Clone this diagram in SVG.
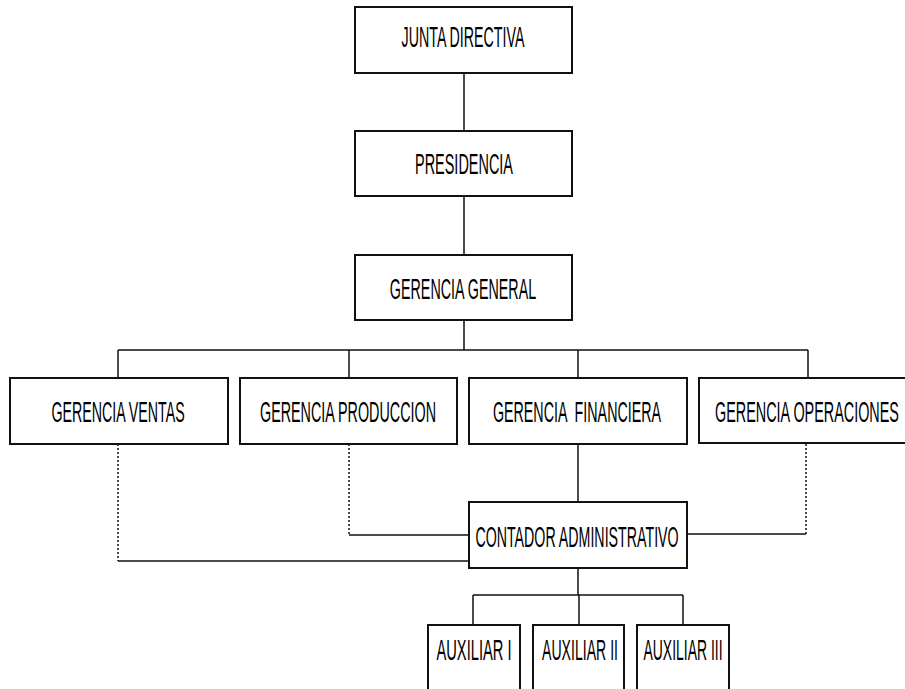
<svg xmlns="http://www.w3.org/2000/svg" width="905" height="689" viewBox="0 0 905 689">
<style>
.box{fill:#fff;stroke:#111;stroke-width:2}
.t{font-family:"Liberation Sans",Arial,sans-serif;font-size:30px;fill:#000;text-anchor:middle}
.ln{fill:none;stroke:#111;stroke-width:1.5}
.dt{fill:none;stroke:#111;stroke-width:1.5;stroke-dasharray:2,2}
</style>
<rect width="905" height="689" fill="#fff"/>
<g id="connectors">
<path class="ln" d="M464 73V131M464 196V255M464 320V350M118 350H808M118 350V378M349 350V378M578 350V378M808 350V378"/>
<path class="ln" d="M578 444V502"/>
<path class="dt" d="M118 444V561M349 444V535M806 444V534"/>
<path class="ln" d="M118 561H469M349 535H469M806 534H687"/>
<path class="ln" d="M578 568V595M473 595H683M473 595V625M579 595V625M683 595V625"/>
</g>
<g id="junta"><rect class="box" x="355" y="7" width="217" height="66"/><text class="t" transform="translate(463 47) scale(0.475 1)">JUNTA DIRECTIVA</text></g>
<g id="presidencia"><rect class="box" x="355" y="131" width="217" height="65"/><text class="t" transform="translate(464 174) scale(0.482 1)">PRESIDENCIA</text></g>
<g id="gerencia-general"><rect class="box" x="355" y="255" width="217" height="65"/><text class="t" transform="translate(463 299) scale(0.477 1)">GERENCIA GENERAL</text></g>
<g id="gerencia-ventas"><rect class="box" x="10" y="378" width="218" height="66"/><text class="t" transform="translate(118 422) scale(0.474 1)">GERENCIA VENTAS</text></g>
<g id="gerencia-produccion"><rect class="box" x="240" y="378" width="217" height="66"/><text class="t" transform="translate(348 422) scale(0.478 1)">GERENCIA PRODUCCION</text></g>
<g id="gerencia-financiera"><rect class="box" x="469" y="378" width="218" height="66"/><text class="t" transform="translate(577 422) scale(0.476 1)" xml:space="preserve">GERENCIA  FINANCIERA</text></g>
<g id="gerencia-operaciones"><rect class="box" x="699" y="378" width="220" height="65"/><text class="t" transform="translate(807 422) scale(0.48 1)">GERENCIA OPERACIONES</text></g>
<g id="contador"><rect class="box" x="469" y="502" width="218" height="66"/><text class="t" transform="translate(577 547) scale(0.474 1)">CONTADOR ADMINISTRATIVO</text></g>
<g id="auxiliar-1"><rect class="box" x="428" y="625" width="92" height="70"/><text class="t" transform="translate(474 660) scale(0.49 1)">AUXILIAR I</text></g>
<g id="auxiliar-2"><rect class="box" x="533" y="625" width="91" height="70"/><text class="t" transform="translate(580 660) scale(0.47 1)">AUXILIAR II</text></g>
<g id="auxiliar-3"><rect class="box" x="637" y="625" width="92" height="70"/><text class="t" transform="translate(683 660) scale(0.465 1)">AUXILIAR III</text></g>
</svg>
